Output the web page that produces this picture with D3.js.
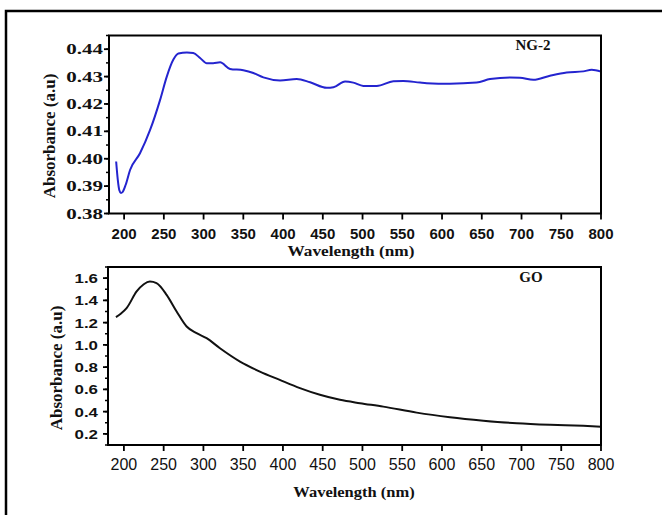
<!DOCTYPE html>
<html>
<head>
<meta charset="utf-8">
<script src="https://cdn.jsdelivr.net/npm/d3@7"></script>
<style>
  body { margin: 0; background: #fff; }
  svg text { fill: #111; }
</style>
</head>
<body>
<div id="chart"></div>
<script>
// NG-2 spectrum
var ngWavelength = [190, 192, 194, 196, 198, 202, 207.5, 220, 232.7, 245.3, 253.7, 262, 268.3, 279, 287, 295.6, 304, 312, 320.8, 333.3, 350, 362.6, 375.2, 396.2, 417.2, 434, 455, 463.4, 478, 488.4, 501, 517.9, 538.7, 551.3, 572.3, 580.7, 610, 643.6, 660.4, 685.5, 698, 714.8, 735.8, 756.8, 777.7, 788.3, 800];
var ngAbsorbance = [0.3990, 0.3925, 0.3885, 0.3875, 0.3878, 0.3905, 0.3959, 0.4020, 0.4105, 0.4215, 0.4300, 0.4362, 0.4384, 0.4388, 0.4386, 0.4368, 0.4349, 0.4349, 0.4352, 0.4328, 0.4323, 0.4313, 0.4297, 0.4286, 0.4291, 0.4279, 0.4259, 0.4261, 0.4282, 0.4278, 0.4266, 0.4266, 0.4283, 0.4284, 0.4278, 0.4276, 0.4274, 0.4278, 0.4291, 0.4297, 0.4296, 0.4288, 0.4303, 0.4315, 0.4319, 0.4325, 0.4318];

// GO spectrum
var goWavelength = [190, 196, 203.4, 216, 225, 232.7, 241, 253.7, 266.3, 278.9, 291.4, 304, 320.8, 346, 371, 396, 421.4, 446.5, 471.7, 496.9, 526.2, 568.2, 610, 652, 694, 736, 777.7, 800];
var goAbsorbance = [1.249, 1.280, 1.330, 1.480, 1.545, 1.569, 1.555, 1.450, 1.300, 1.165, 1.105, 1.060, 0.970, 0.850, 0.760, 0.685, 0.611, 0.551, 0.506, 0.476, 0.445, 0.391, 0.350, 0.319, 0.295, 0.281, 0.272, 0.265];

var xTicks = [200, 250, 300, 350, 400, 450, 500, 550, 600, 650, 700, 750, 800];
var ngTicks = [0.38, 0.39, 0.40, 0.41, 0.42, 0.43, 0.44];
var goTicks = [0.2, 0.4, 0.6, 0.8, 1.0, 1.2, 1.4, 1.6];

var W = 662, H = 515;
var serif = "'Liberation Serif', 'Times New Roman', serif";
var sans = "'Liberation Sans', Arial, sans-serif";

var svg = d3.select("#chart").append("svg")
    .attr("width", W)
    .attr("height", H);

// outer frame, runs off the right and bottom of the picture
svg.append("rect")
    .attr("x", 6).attr("y", 11)
    .attr("width", 700).attr("height", 600)
    .attr("fill", "none")
    .attr("stroke", "#000")
    .attr("stroke-width", 2.5);

function panel(p) {
  var x = d3.scaleLinear().domain(p.xDomain).range([p.left, p.right]);
  var y = d3.scaleLinear().domain(p.yDomain).range([p.bottom, p.top]);
  var g = svg.append("g");

  // minor y ticks
  var minor = d3.range(p.yDomain[0], p.yDomain[1] + 1e-9, p.minorStep)
  g.selectAll(".minor").data(minor).enter().append("line")
      .attr("x1", p.left - 3).attr("x2", p.left)
      .attr("y1", function(d) { return y(d); })
      .attr("y2", function(d) { return y(d); })
      .attr("stroke", "#000").attr("stroke-width", 1.5);

  // major y ticks + labels
  g.selectAll(".ytick").data(p.yTicks).enter().append("line")
      .attr("x1", p.left - 5).attr("x2", p.left)
      .attr("y1", function(d) { return y(d); })
      .attr("y2", function(d) { return y(d); })
      .attr("stroke", "#000").attr("stroke-width", 1.8);

  g.selectAll(".ylab").data(p.yTicks).enter().append("text")
      .attr("transform", function(d) { return "translate(" + (p.left - p.yLabGap) + "," + (y(d) + p.yLabDy) + ") scale(" + p.yLabScale + ",1)"; })
      .attr("text-anchor", "end")
      .style("font-family", p.yLabFont)
      .style("font-size", p.yLabSize + "px")
      .style("font-weight", "bold")
      .text(function(d) { return p.yFormat(d); });

  // x ticks + labels
  g.selectAll(".xtick").data(xTicks).enter().append("line")
      .attr("x1", function(d) { return x(d); })
      .attr("x2", function(d) { return x(d); })
      .attr("y1", p.bottom).attr("y2", p.bottom + 6)
      .attr("stroke", "#000").attr("stroke-width", 1.8);

  g.selectAll(".xlab").data(xTicks).enter().append("text")
      .attr("x", function(d) { return x(d); })
      .attr("y", p.xLabY)
      .attr("text-anchor", "middle")
      .style("font-family", sans)
      .style("font-size", p.xLabSize + "px")
      .style("font-weight", p.xLabWeight)
      .text(function(d) { return d; });

  // the curve
  var line = d3.line()
      .x(function(d, i) { return x(p.xs[i]); })
      .y(function(d) { return y(d); })
      .curve(d3.curveMonotoneX);
  g.append("path")
      .datum(p.ys)
      .attr("d", line)
      .attr("fill", "none")
      .attr("stroke", p.color)
      .attr("stroke-width", 2);

  // box
  g.append("rect")
      .attr("x", p.left).attr("y", p.top)
      .attr("width", p.right - p.left).attr("height", p.bottom - p.top)
      .attr("fill", "none")
      .attr("stroke", "#000").attr("stroke-width", 2);

  // titles
  g.append("text")
      .attr("transform", "translate(" + p.xTitleX + "," + p.xTitleY + ") scale(" + p.xTitleScale + ",1)")
      .attr("text-anchor", "middle")
      .style("font-family", serif)
      .style("font-size", "15px")
      .style("font-weight", "bold")
      .text("Wavelength (nm)");

  g.append("text")
      .attr("transform", "translate(" + p.yTitleX + "," + p.yTitleY + ") rotate(-90)")
      .attr("text-anchor", "middle")
      .style("font-family", serif)
      .style("font-size", "17px")
      .style("font-weight", "bold")
      .text("Absorbance (a.u)");

  g.append("text")
      .attr("x", p.nameX).attr("y", p.nameY)
      .attr("text-anchor", "middle")
      .style("font-family", serif)
      .style("font-size", "15px")
      .style("font-weight", "bold")
      .text(p.name);
}

panel({
  left: 109, right: 601, top: 35.5, bottom: 213.5,
  xDomain: [181, 800], yDomain: [0.38, 0.445],
  yTicks: ngTicks, minorStep: 0.005, yFormat: d3.format(".2f"),
  yLabFont: serif, yLabSize: 15, yLabScale: 1.4, yLabGap: 6, yLabDy: 5,
  xLabY: 239, xLabSize: 15, xLabWeight: "bold",
  xTitleX: 351, xTitleY: 256, xTitleScale: 1.15,
  yTitleX: 55, yTitleY: 136,
  xs: ngWavelength, ys: ngAbsorbance, color: "#2424cf",
  name: "NG-2", nameX: 533, nameY: 50
});

panel({
  left: 108, right: 601, top: 267, bottom: 445,
  xDomain: [180, 800], yDomain: [0.1, 1.7],
  yTicks: goTicks, minorStep: 0.1, yFormat: d3.format(".1f"),
  yLabFont: sans, yLabSize: 13, yLabScale: 1.3, yLabGap: 10, yLabDy: 5,
  xLabY: 470, xLabSize: 16, xLabWeight: "normal",
  xTitleX: 354, xTitleY: 497, xTitleScale: 1.1,
  yTitleX: 62, yTitleY: 368,
  xs: goWavelength, ys: goAbsorbance, color: "#111",
  name: "GO", nameX: 531, nameY: 282
});
</script>
</body>
</html>
